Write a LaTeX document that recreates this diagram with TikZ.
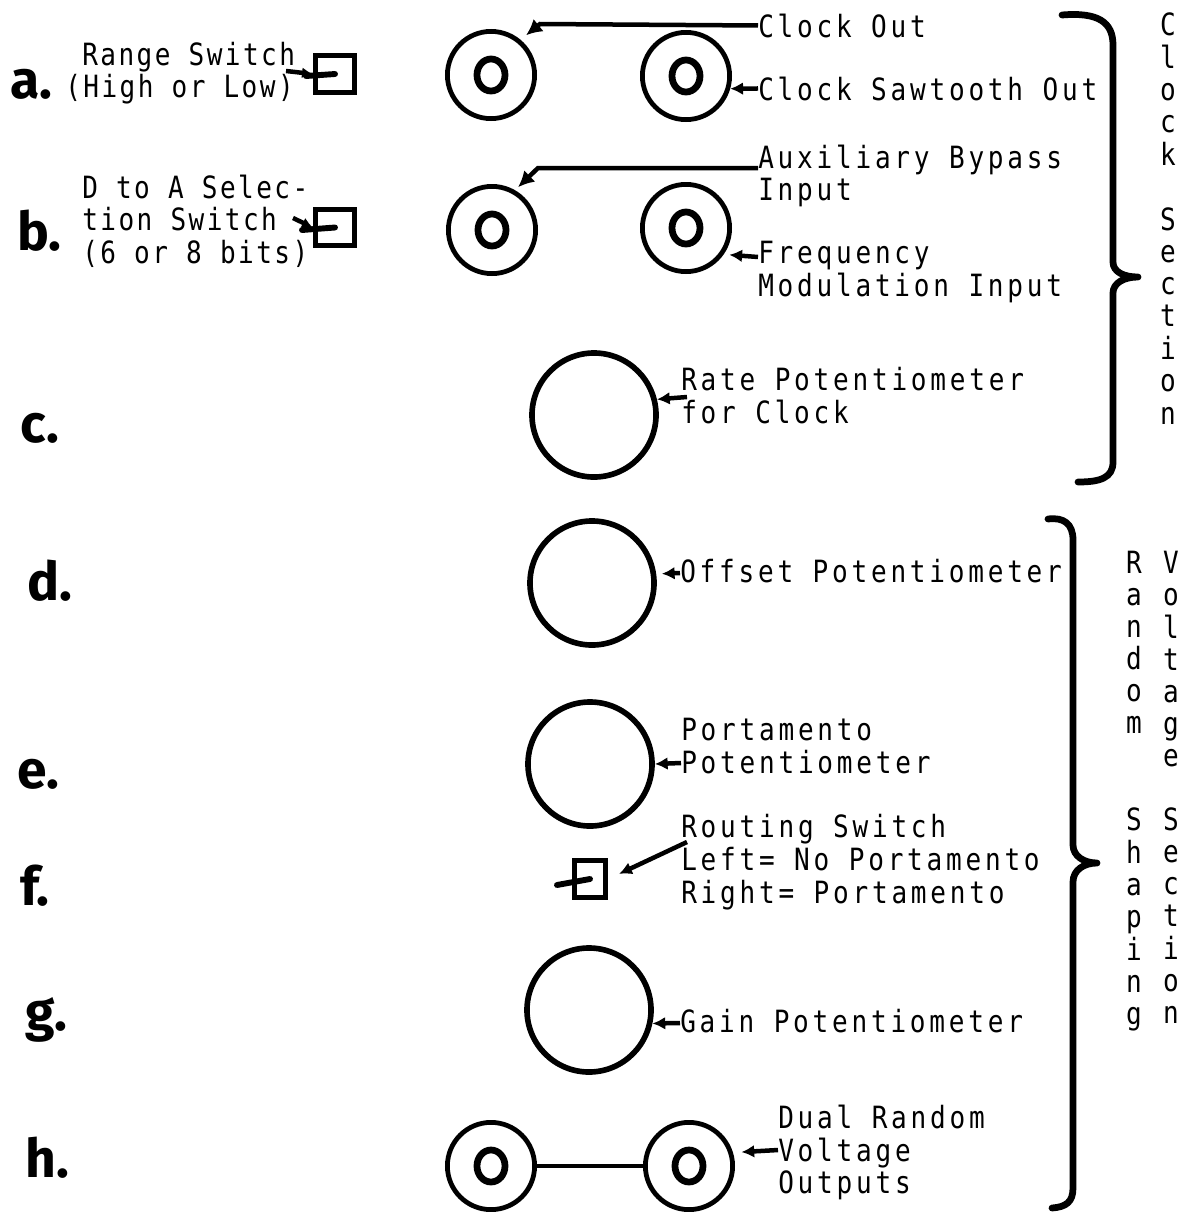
\documentclass[tikz,border=0pt]{standalone}
\usepackage{fontspec}
\usetikzlibrary{arrows.meta,shapes.geometric}
\newfontfamily\tw{DejaVu Sans Mono}[FakeStretch=0.85,LetterSpace=12.3]
\newfontfamily\twl{DejaVu Sans Mono}[FakeStretch=0.85,LetterSpace=8]
\newfontfamily\hand{Fira Sans}
\newcommand\mlines[1]{\begin{tabular}[t]{@{}l@{}}#1\end{tabular}}
\newcommand\mcol[1]{\begin{tabular}[t]{@{}c@{}}#1\end{tabular}}
\begin{document}
\begin{tikzpicture}[x=0.025cm,y=-0.025cm,
  tt/.style={font=\tw\fontsize{21.8pt}{23.12pt}\selectfont, inner sep=0pt, anchor=base west},
  ttl/.style={font=\twl\fontsize{21.8pt}{22.4pt}\selectfont, inner sep=0pt, anchor=base west},
  colc/.style={font=\tw\fontsize{21.8pt}{22.9pt}\selectfont, inner sep=0pt, anchor=base},
  colr/.style={font=\tw\fontsize{21.8pt}{22.76pt}\selectfont, inner sep=0pt, anchor=base},
  letter/.style={font=\hand\bfseries\fontsize{38pt}{40pt}\selectfont, inner sep=0pt, anchor=base west},
  jack/.style={circle, draw, line width=3.4pt, minimum size=2.18cm, inner sep=0pt},
  hole/.style={ellipse, draw, line width=4.8pt, minimum width=0.7cm, minimum height=0.8cm, inner sep=0pt},
  pot/.style={circle, draw, line width=4pt, minimum size=3.1cm, inner sep=0pt},
  sw/.style={rectangle, draw, line width=3.8pt, inner sep=0pt},
  arr/.style={line width=3.2pt, -{Latex[length=0.32cm,width=0.32cm]}},
  handle/.style={line width=4.2pt, line cap=round},
  brace/.style={line width=4.8pt, line cap=round, line join=round},
  wire/.style={line width=2.8pt}]
\useasboundingbox (0,0) rectangle (1199,1212);

% row letters
\node[letter] (la) at (10,98) {a.};
\node[letter] (lb) at (17,250) {b.};
\node[letter] (lc) at (20,442) {c.};
\node[letter] (ld) at (27,600) {d.};
\node[letter] (le) at (17,788) {e.};
\node[letter] (lf) at (20,905) {f.};
\node[letter] (lg) at (25,1030) {g.};
\node[letter] (lh) at (25,1177) {h.};

% left labels
\node[ttl] (lrange) at (65,65) {\mlines{\hspace*{0.425cm}Range Switch\\(High or Low)}};
\node[ttl] (lda) at (82,198) {\mlines{D to A Selec-\\tion Switch\\(6 or 8 bits)}};

% switches
\node[sw, minimum width=0.975cm, minimum height=0.925cm] (swa) at (335,74) {};
\node[sw, minimum width=0.975cm, minimum height=0.9cm] (swb) at (335,227.5) {};
\node[sw, minimum width=0.775cm, minimum height=0.925cm] (swf) at (590,879) {};
\coordinate (ha) at (306,76);
\coordinate (hb) at (302,230);
\coordinate (hf) at (557,885);
\draw[handle] (swa.center) -- (ha);
\draw[handle] (swb.center) -- (hb);
\draw[handle] (swf.center) -- (hf);
\coordinate (ta) at (286,71);
\coordinate (tb) at (293,218);
\draw[arr, -{Latex[length=0.27cm,width=0.27cm]}] (ta) -- (swa.west);
\draw[arr, -{Latex[length=0.27cm,width=0.27cm]}] (tb) -- (swb.west);

% jacks
\node[jack] (ja1) at (491,75) {};
\node[hole] (ja1h) at (ja1) {};
\node[jack] (ja2) at (686,76) {};
\node[hole] (ja2h) at (ja2) {};
\node[jack] (jb1) at (492,230) {};
\node[hole] (jb1h) at (jb1) {};
\node[jack] (jb2) at (686,228) {};
\node[hole] (jb2h) at (jb2) {};
\node[jack] (jh1) at (491,1166) {};
\node[hole] (jh1h) at (jh1) {};
\node[jack] (jh2) at (689,1166) {};
\node[hole] (jh2h) at (jh2) {};
\draw[wire] (jh1) -- (jh2);

% pots
\node[pot] (pc) at (594,415) {};
\node[pot] (pd) at (592,583) {};
\node[pot] (pe) at (590,764) {};
\node[pot] (pg) at (589,1010) {};

% right labels
\node[tt] (lco) at (758,37) {Clock Out};
\node[tt] (lcs) at (758,100) {Clock Sawtooth Out};
\node[tt] (lab) at (758,168) {\mlines{Auxiliary Bypass\\Input}};
\node[tt] (lfm) at (758,263) {\mlines{Frequency\\Modulation Input}};
\node[tt] (lrp) at (681,390) {\mlines{Rate Potentiometer\\for Clock}};
\node[tt] (lop) at (680,582) {Offset Potentiometer};
\node[tt] (lpp) at (681,740) {\mlines{Portamento\\Potentiometer}};
\node[tt] (lrs) at (681,837) {\mlines{Routing Switch\\Left= No Portamento\\Right= Portamento}};
\node[tt] (lgp) at (680,1032) {Gain Potentiometer};
\node[tt] (ldr) at (778,1128) {\mlines{Dual Random\\Voltage\\Outputs}};

% connectors
\coordinate (co1) at (540,24);
\coordinate (ab1) at (538,168);
\draw[arr, -{Latex[length=0.4cm,width=0.4cm]}, shorten >=5pt] (lco.west) -- (co1) -- (ja1.50);
\draw[arr] (lcs.west) -- (ja2.-16);
\draw[arr, -{Latex[length=0.4cm,width=0.4cm]}, shorten >=3pt] (lab.base west) -- (ab1) -- (jb1.60);
\draw[arr, shorten >=4pt] ([yshift=0.15cm]lfm.base west) -- (jb2.-35);
\draw[arr] ([shift={(0.15cm,-0.175cm)}]lrp.base west) -- (pc.14);
\draw[arr, shorten >=4pt] ([yshift=0.225cm]lop.base west) -- (pd.8);
\draw[arr] ([yshift=-0.575cm]lpp.base west) -- (pe.0);
\draw[arr, shorten >=0.3cm] ([shift={(0.15cm,-0.125cm)}]lrs.base west) -- (swf.east);
\draw[arr] ([yshift=0.225cm]lgp.base west) -- (pg.-12);
\draw[arr, shorten >=6pt] ([yshift=-0.55cm]ldr.base west) -- (jh2.17);

% braces
\draw[brace] (1062,15) .. controls (1098,12) and (1113,22) .. (1113,45) -- (1113,262)
  .. controls (1113,272) and (1124,277) .. (1138,277)
  .. controls (1124,277) and (1113,283) .. (1113,293) -- (1113,462)
  .. controls (1113,478) and (1100,482) .. (1078,482);
\draw[brace] (1048,519) .. controls (1064,517) and (1073,524) .. (1073,540) -- (1073,845)
  .. controls (1073,856) and (1084,863) .. (1097,863)
  .. controls (1084,863) and (1073,870) .. (1073,882) -- (1073,1188)
  .. controls (1073,1202) and (1066,1207) .. (1052,1208);

% section titles
\node[colc] (csec) at (1168,35) {\mcol{C\\l\\o\\c\\k\\ \\S\\e\\c\\t\\i\\o\\n}};
\node[colr] (rsh) at (1134,573) {\mcol{R\\a\\n\\d\\o\\m\\ \\ \\S\\h\\a\\p\\i\\n\\g}};
\node[colr] (vsec) at (1171,573) {\mcol{V\\o\\l\\t\\a\\g\\e\\ \\S\\e\\c\\t\\i\\o\\n}};
\end{tikzpicture}
\end{document}
